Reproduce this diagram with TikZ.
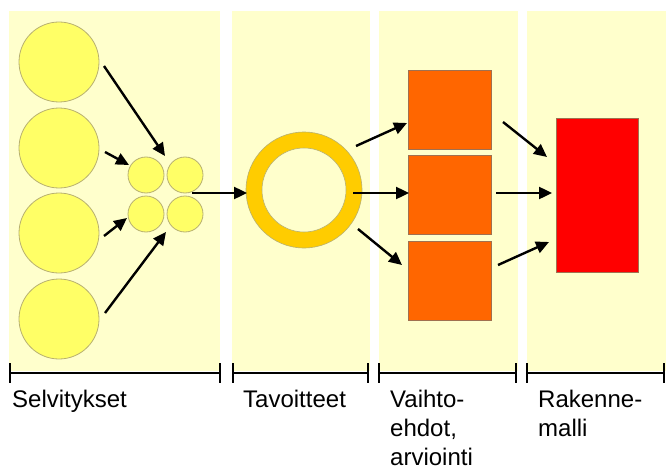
\documentclass[tikz,border=0pt]{standalone}
\usepackage{fontspec}
\setmainfont{Liberation Sans}
\usetikzlibrary{arrows.meta}
\definecolor{panelc}{HTML}{FFFFCC}
\definecolor{circc}{HTML}{FFFF66}
\definecolor{circb}{HTML}{B8B070}
\definecolor{ringc}{HTML}{FFCC00}
\definecolor{boxc}{HTML}{FF6600}
\definecolor{redc}{HTML}{FF0000}
\definecolor{boxb}{HTML}{A07050}
\tikzset{
  panel/.style={fill=panelc, draw=none},
  bigc/.style={circle, fill=circc, draw=circb, line width=0.8pt, minimum size=80pt, inner sep=0pt},
  smallc/.style={circle, fill=circc, draw=circb, line width=0.8pt, minimum size=36pt, inner sep=0pt},
  obox/.style={rectangle, fill=boxc, draw=boxb, line width=0.6pt, minimum width=83pt, minimum height=79pt, inner sep=0pt},
  rbox/.style={rectangle, fill=redc, draw=boxb, line width=0.6pt, minimum width=82pt, minimum height=154pt, inner sep=0pt},
  arr/.style={line width=2.4pt, -{Triangle[length=13pt,width=12pt]}},
  bar/.style={line width=2pt},
  tick/.style={line width=2pt},
  lab/.style={anchor=base west, inner sep=0pt, font=\fontsize{24}{29}\selectfont}
}
\begin{document}
\begin{tikzpicture}[x=1pt,y=-1pt]
\useasboundingbox (0,0) rectangle (666,468);
% panels
\fill[panel] (9,11) rectangle (220,371);
\fill[panel] (232,11) rectangle (370,371);
\fill[panel] (379,11) rectangle (518,371);
\fill[panel] (527,11) rectangle (666,371);
% big circles
\node[bigc] (b1) at (59,62) {};
\node[bigc] (b2) at (59,148) {};
\node[bigc] (b3) at (59,233) {};
\node[bigc] (b4) at (59,319) {};
% small circles
\node[smallc] (s1) at (146,175) {};
\node[smallc] (s2) at (185,175) {};
\node[smallc] (s3) at (146,214) {};
\node[smallc] (s4) at (185,214) {};
% ring
\node[circle, fill=ringc, draw=circb, line width=0.6pt, minimum size=116pt, inner sep=0pt] (ring) at (304,190) {};
\node[circle, fill=panelc, draw=circb, line width=0.6pt, minimum size=84pt, inner sep=0pt] (ringin) at (304,190) {};
% orange boxes
\node[obox] (o1) at (449.5,109.5) {};
\node[obox] (o2) at (449.5,195) {};
\node[obox] (o3) at (449.5,281) {};
% red box
\node[rbox] (r) at (597,195) {};
% coordinates for arrows
\coordinate (a1s) at (104,66);  \coordinate (a1e) at (165,156);
\coordinate (a2s) at (105,152); \coordinate (a2e) at (129,165);
\coordinate (a3s) at (104,236); \coordinate (a3e) at (127,218);
\coordinate (a4s) at (105,313); \coordinate (a4e) at (166,232);
\coordinate (a5s) at (192,193); \coordinate (a5e) at (247,193);
\coordinate (a6s) at (356,146); \coordinate (a6e) at (407,123);
\coordinate (a7s) at (353,193); \coordinate (a7e) at (409,193);
\coordinate (a8s) at (358,229); \coordinate (a8e) at (402,265);
\coordinate (a9s) at (503,122); \coordinate (a9e) at (547,157);
\coordinate (a10s) at (496,193); \coordinate (a10e) at (552,193);
\coordinate (a11s) at (498,265); \coordinate (a11e) at (549,242);
\draw[arr] (a1s) -- (a1e);
\draw[arr] (a2s) -- (a2e);
\draw[arr] (a3s) -- (a3e);
\draw[arr] (a4s) -- (a4e);
\draw[arr] (a5s) -- (a5e);
\draw[arr] (a6s) -- (a6e);
\draw[arr] (a7s) -- (a7e);
\draw[arr] (a8s) -- (a8e);
\draw[arr] (a9s) -- (a9e);
\draw[arr] (a10s) -- (a10e);
\draw[arr] (a11s) -- (a11e);
% scale bars
\foreach \l/\r in {10/220, 233/368, 379/516, 527/664}{
  \draw[bar] (\l,373) -- (\r,373);
  \draw[tick] (\l,363) -- (\l,383);
  \draw[tick] (\r,363) -- (\r,383);
}
% labels
\node[lab] (t1) at (12,407) {Selvitykset};
\node[lab] (t2) at (243,407) {Tavoitteet};
\node[lab] (t3) at (390,407) {\vtop{\hbox{Vaihto-}\hbox{ehdot,}\hbox{arviointi}}};
\node[lab] (t4) at (538,407) {\vtop{\hbox{Rakenne-}\hbox{malli}}};
\end{tikzpicture}
\end{document}
